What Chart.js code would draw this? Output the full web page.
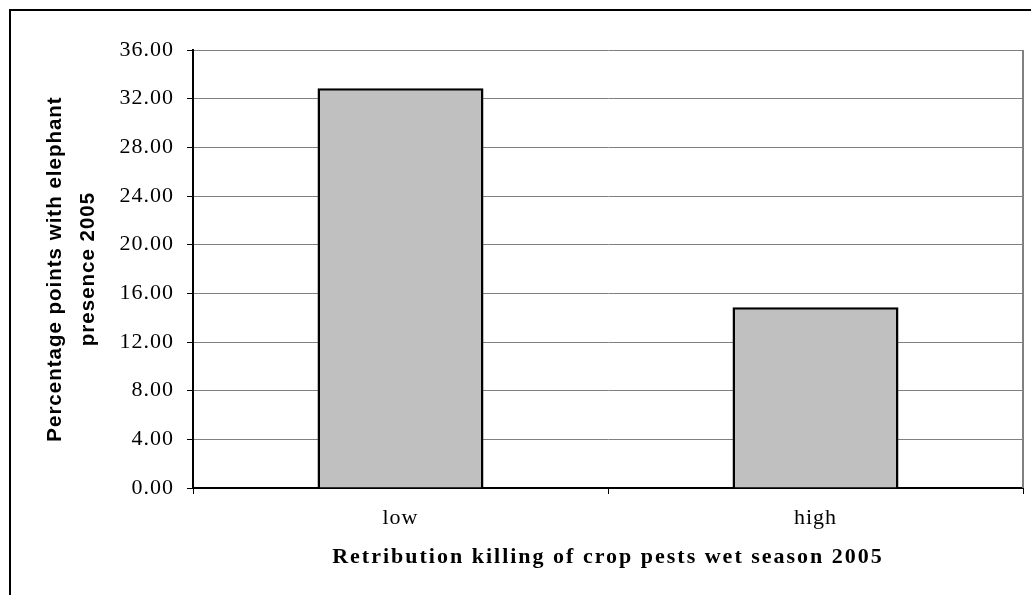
<!DOCTYPE html>
<html>
<head>
<meta charset="utf-8">
<script src="https://cdn.jsdelivr.net/npm/chart.js@4/dist/chart.umd.min.js"></script>
<style>
  html, body { margin: 0; padding: 0; background: #fff; overflow: hidden; }
  #wrap { position: relative; width: 1031px; height: 595px; overflow: hidden; }
  #frame { position: absolute; left: 9px; top: 9px; width: 1100px; height: 700px; border: 2px solid #000; }
  #grafica { position: absolute; left: 0; top: 0; }
</style>
</head>
<body>
<div id="wrap">
  <div id="frame"></div>
  <canvas id="grafica" width="1031" height="595"></canvas>
</div>
<script>
// datos de la grafica
var categorias = ['low', 'high'];
var valores = [32.86, 14.85];
var yMin = 0;
var yMax = 36;
var yPaso = 4;
var tituloX = 'Retribution killing of crop pests wet season 2005';
var tituloY = ['Percentage points with elephant', 'presence 2005'];

// espaciado de letras como en el original (titulo X mas espaciado)
var espaciado = {
    id: 'espaciado',
    beforeDraw: function (chart) {
        var c = chart.ctx;
        if (!c._fillOriginal) {
            c._fillOriginal = c.fillText;
            c.fillText = function (t, x, y, w) {
                var f = this.font;
                this.letterSpacing = (f.indexOf('bold') >= 0 && f.indexOf('Serif') >= 0) ? '2px' : '1px';
                return this._fillOriginal(t, x, y, w);
            };
        }
    },
    afterDraw: function (chart) {
        // borde derecho del area de la grafica
        var a = chart.chartArea;
        var c = chart.ctx;
        c.save();
        c.strokeStyle = '#808080';
        c.lineWidth = 2;
        c.beginPath();
        c.moveTo(a.right, a.top);
        c.lineTo(a.right, a.bottom);
        c.stroke();
        c.restore();
    }
};

var ctx = document.getElementById('grafica');
var config = {
    type: 'bar',
    data: {
        labels: categorias,
        datasets: [{
            data: valores,
            backgroundColor: '#c0c0c0',
            borderColor: '#000',
            borderWidth: 2.5,
            barPercentage: 0.4,
            categoryPercentage: 1
        }]
    },
    options: {
        responsive: false,
        animation: false,
        layout: { padding: { left: 0, top: 50, right: 8, bottom: 0 } },
        plugins: {
            legend: { display: false },
            tooltip: { enabled: false }
        },
        scales: {
            x: {
                afterFit: function (scale) { scale.height = 107; },
                grid: {
                    offset: true,
                    drawOnChartArea: false,
                    drawTicks: true,
                    tickLength: 6,
                    tickColor: '#000',
                    lineWidth: 1
                },
                border: { color: '#000', width: 2 },
                ticks: {
                    color: '#000',
                    padding: 11,
                    font: { family: 'Liberation Serif', size: 22 }
                },
                title: {
                    display: true,
                    text: tituloX,
                    color: '#000',
                    padding: { top: 0, bottom: 24 },
                    font: { family: 'Liberation Serif', size: 22, weight: 'bold' }
                }
            },
            y: {
                min: yMin,
                max: yMax,
                afterFit: function (scale) { scale.width = 193; },
                grid: {
                    color: '#808080',
                    lineWidth: 1,
                    drawTicks: true,
                    tickLength: 6,
                    tickColor: '#000'
                },
                border: { color: '#000', width: 2 },
                ticks: {
                    stepSize: yPaso,
                    color: '#000',
                    padding: 13,
                    font: { family: 'Liberation Serif', size: 22 },
                    callback: function (v) { return v.toFixed(2); }
                },
                title: {
                    display: true,
                    text: tituloY,
                    color: '#000',
                    padding: { top: 38, bottom: 0 },
                    font: { family: 'Liberation Sans', size: 20.5, weight: 'bold', lineHeight: 1.65 }
                }
            }
        }
    },
    plugins: [espaciado]
};

window.miGrafica = new Chart(ctx, config);
</script>
</body>
</html>
